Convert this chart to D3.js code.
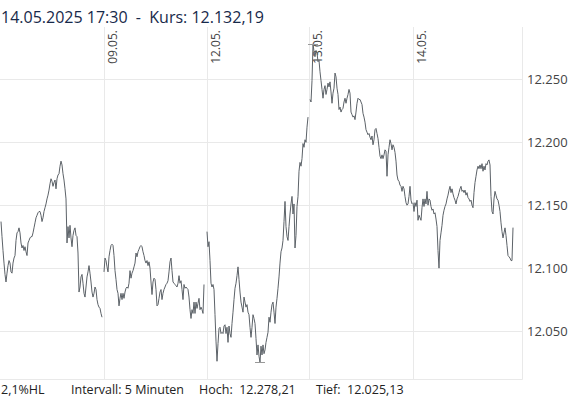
<!DOCTYPE html>
<html>
<head>
<meta charset="utf-8">
<script src="https://cdn.jsdelivr.net/npm/d3@7"></script>
<style>
  body { margin: 0; background: #fff; }
  svg { display: block; font-family: "Open Sans", sans-serif; }
  text { white-space: pre; }
</style>
</head>
<body>
<svg id="chart" width="580" height="397"></svg>
<script>
// trading days shown, 5 minute slots 09:00 - 17:30
var days = ["08.05.", "09.05.", "12.05.", "13.05.", "14.05."];
var slotsPerDay = 103;
var stamp = "14.05.2025 17:30";
var interval = "5 Minuten";
var yTicks = [12050, 12100, 12150, 12200, 12250];

var day0 = [
  12137,12125,12114,12104,12095,12089,12096,12102,12106,12104,
  12097,12096,12104,12108,12110,12122,12128,12129,12132,12128,
  12120,12116,12118,12114,12117,12113,12110,12120,12122,12124,
  12125,12125,12128,12132,12136,12140,12142,12144,12145,12145,
  12142,12137,12140,12145,12148,12151,12155,12158,12162,12167,
  12171,12169,12165,12168,12170,12163,12171,12174,12175,12181,
  12185,12182,12175,12170,12163,12155,12120,12133,12124,12134,
  12124,12117,12126,12130,12132,12126,12125,12112,12081,12085,
  12093,12095,12088,12080,12077,12085,12093,12097,12102,12096,
  12089,12081,12077,12080,12085,12083,12075,12071,12069,12068,
  12064,12061
];
var day1 = [
  12097,12108,12106,12101,12097,12109,12114,12118,12119,12118,
  12110,12098,12091,12083,12080,12070,12076,12080,12075,12080,
  12076,12081,12084,12085,12084,12088,12098,12092,12096,12098,
  12101,12104,12112,12109,12113,12115,12117,12118,12117,12113,
  12110,12106,12104,12106,12102,12105,12100,12089,12079,12089,
  12092,12091,12083,12070,12071,12076,12081,12083,12075,12080,
  12083,12085,12087,12088,12090,12097,12105,12108,12098,12089,
  12088,12087,12086,12085,12088,12094,12088,12090,12083,12075,
  12087,12084,12085,12084,12083,12077,12067,12060,12067,12064,
  12073,12064,12073,12068,12072,12076,12067,12069,12067,12064,
  12087
];
var day2 = [
  12129,12117,12121,12106,12088,12085,12087,12083,12063,12042,
  12026,12040,12052,12053,12048,12049,12048,12054,12055,12048,
  12053,12041,12054,12048,12045,12056,12065,12075,12084,12088,
  12094,12101,12091,12081,12073,12069,12065,12077,12073,12069,
  12071,12065,12063,12053,12045,12053,12063,12060,12056,12044,
  12031,12039,12030,12025.13,12038,12031,12039,12032,12035,12041,
  12045,12049,12061,12057,12065,12071,12073,12065,12056,12069,
  12076,12084,12093,12104,12113,12116,12122,12137,12153,12133,
  12125,12122,12133,12143,12151,12157,12143,12151,12116,12126,
  12149,12157,12177,12184,12181,12187,12199,12196,12202,12200,
  12212,12220
];
var day3 = [
  12234,12232,12249,12278.21,12272,12268,12273,12271,12264,12265,
  12256,12249,12242,12235,12242,12245,12238,12242,12247,12244,
  12248,12240,12231,12239,12243,12255,12252,12243,12238,12226,
  12228,12224,12226,12227,12232,12235,12231,12235,12238,12242,
  12239,12224,12222,12220,12221,12218,12224,12231,12235,12234,
  12234,12232,12230,12223,12220,12216,12210,12208,12206,12207,
  12204,12202,12205,12198,12202,12210,12211,12207,12203,12196,
  12189,12187,12190,12187,12190,12194,12193,12173,12190,12196,
  12202,12199,12194,12198,12196,12192,12185,12174,12170,12169,
  12166,12165,12161,12165,12163,12157,12152,12150,12151,12157,
  12165,12154,12151
];
var day4 = [
  12152,12145,12152,12149,12154,12138,12142,12140,12138,12148,
  12155,12149,12155,12151,12161,12150,12155,12154,12149,12146,
  12147,12143,12144,12139,12133,12114,12100,12122,12128,12134,
  12142,12146,12149,12151,12155,12158,12162,12165,12160,12163,
  12159,12156,12154,12151,12155,12157,12160,12163,12165,12161,
  12162,12160,12162,12158,12160,12156,12155,12153,12154,12150,
  12148,12160,12168,12173,12178,12181,12179,12182,12179,12183,
  12177,12181,12178,12183,12182,12185,12186,12182,12157,12145,
  12143,12155,12161,12158,12155,12154,12150,12145,12136,12129,
  12124,12128,12132,12126,12118,12110,12109,12108,12106,12106,
  12132.19
];
var dayValues = [day0, day1, day2, day3, day4];

var de = d3.formatLocale({decimal: ",", thousands: ".", grouping: [3], currency: ["", " €"]});
var fmt0 = de.format(",.0f"), fmt2 = de.format(",.2f"), fmtPct = de.format(".1%");

var svg = d3.select("#chart"),
    plot = {left: 0, right: 522, top: 27, bottom: 379};

// one pixel per 5 minute slot
var x = d3.scaleLinear()
    .domain([0, slotsPerDay * days.length])
    .range([1, 1 + slotsPerDay * days.length]);

var y = d3.scaleLinear()
    .domain([12011.9, 12291.6])
    .range([plot.bottom, plot.top]);

var series = dayValues.map(function(vals, d) {
  return vals.map(function(v, i) { return {slot: d * slotsPerDay + i, value: v}; });
});
var all = d3.merge(series);
var hi = d3.greatest(all, function(p) { return p.value; }),
    lo = d3.least(all, function(p) { return p.value; }),
    last = all[all.length - 1];

var grid = svg.append("g").attr("stroke", "#e9e9e9").attr("stroke-width", 1);

// horizontal grid
grid.selectAll(".h").data(yTicks).enter().append("line")
    .attr("x1", plot.left).attr("x2", plot.right)
    .attr("y1", function(d) { return Math.round(y(d)) + 0.5; })
    .attr("y2", function(d) { return Math.round(y(d)) + 0.5; });

// day separators
grid.selectAll(".v").data(days.slice(1)).enter().append("line")
    .attr("x1", function(d, i) { return Math.floor(x((i + 1) * slotsPerDay)) + 0.5; })
    .attr("x2", function(d, i) { return Math.floor(x((i + 1) * slotsPerDay)) + 0.5; })
    .attr("y1", plot.top).attr("y2", plot.bottom);

// frame right + bottom
grid.append("line").attr("x1", plot.right + 0.5).attr("x2", plot.right + 0.5)
    .attr("y1", plot.top).attr("y2", plot.bottom + 0.5);
grid.append("line").attr("x1", plot.left).attr("x2", plot.right + 0.5)
    .attr("y1", plot.bottom + 0.5).attr("y2", plot.bottom + 0.5);

// day labels
svg.selectAll(".dl").data(days.slice(1)).enter().append("text")
    .attr("transform", function(d, i) {
      return "translate(" + (Math.floor(x((i + 1) * slotsPerDay)) + 13) + "," + 30 + ") rotate(-90)";
    })
    .attr("text-anchor", "end")
    .attr("font-size", 12)
    .attr("fill", "#444")
    .text(function(d) { return d; });

// y axis on the right
var yAxis = svg.append("g")
    .attr("transform", "translate(" + plot.right + ",0)")
    .call(d3.axisRight(y).tickValues(yTicks).tickSize(0).tickPadding(5).tickFormat(fmt0));
yAxis.select(".domain").remove();
yAxis.selectAll("text")
    .attr("font-family", "Open Sans, sans-serif")
    .attr("font-size", 13)
    .attr("fill", "#444");

// price line, one path per day
var line = d3.line()
    .x(function(p) { return x(p.slot); })
    .y(function(p) { return y(p.value); });

svg.append("g").selectAll("path").data(series).enter().append("path")
    .attr("fill", "none")
    .attr("stroke", "#5c6268")
    .attr("stroke-width", 1)
    .attr("stroke-linejoin", "miter")
    .attr("d", line);

// high / low markers
svg.selectAll(".mk").data([hi, lo]).enter().append("line")
    .attr("x1", function(p) { return x(p.slot) - 5; })
    .attr("x2", function(p) { return x(p.slot) + 5; })
    .attr("y1", function(p) { return Math.round(y(p.value)) + 0.5; })
    .attr("y2", function(p) { return Math.round(y(p.value)) + 0.5; })
    .attr("stroke", "#999")
    .attr("stroke-width", 1);

// title
svg.append("text")
    .attr("x", 1).attr("y", 23)
    .attr("font-size", 16)
    .attr("fill", "#17294a")
    .text(stamp + "  -  Kurs: " + fmt2(last.value));

// footer
var foot = svg.append("g").attr("font-size", 12.5).attr("fill", "#222");
foot.append("text").attr("x", 1).attr("y", 394)
    .text(fmtPct((hi.value - lo.value) / lo.value) + "HL");
foot.append("text").attr("x", 71).attr("y", 394)
    .text("Intervall: " + interval);
foot.append("text").attr("x", 199).attr("y", 394)
    .text("Hoch:  " + fmt2(hi.value));
foot.append("text").attr("x", 316).attr("y", 394)
    .text("Tief:  " + fmt2(lo.value));
</script>
</body>
</html>
